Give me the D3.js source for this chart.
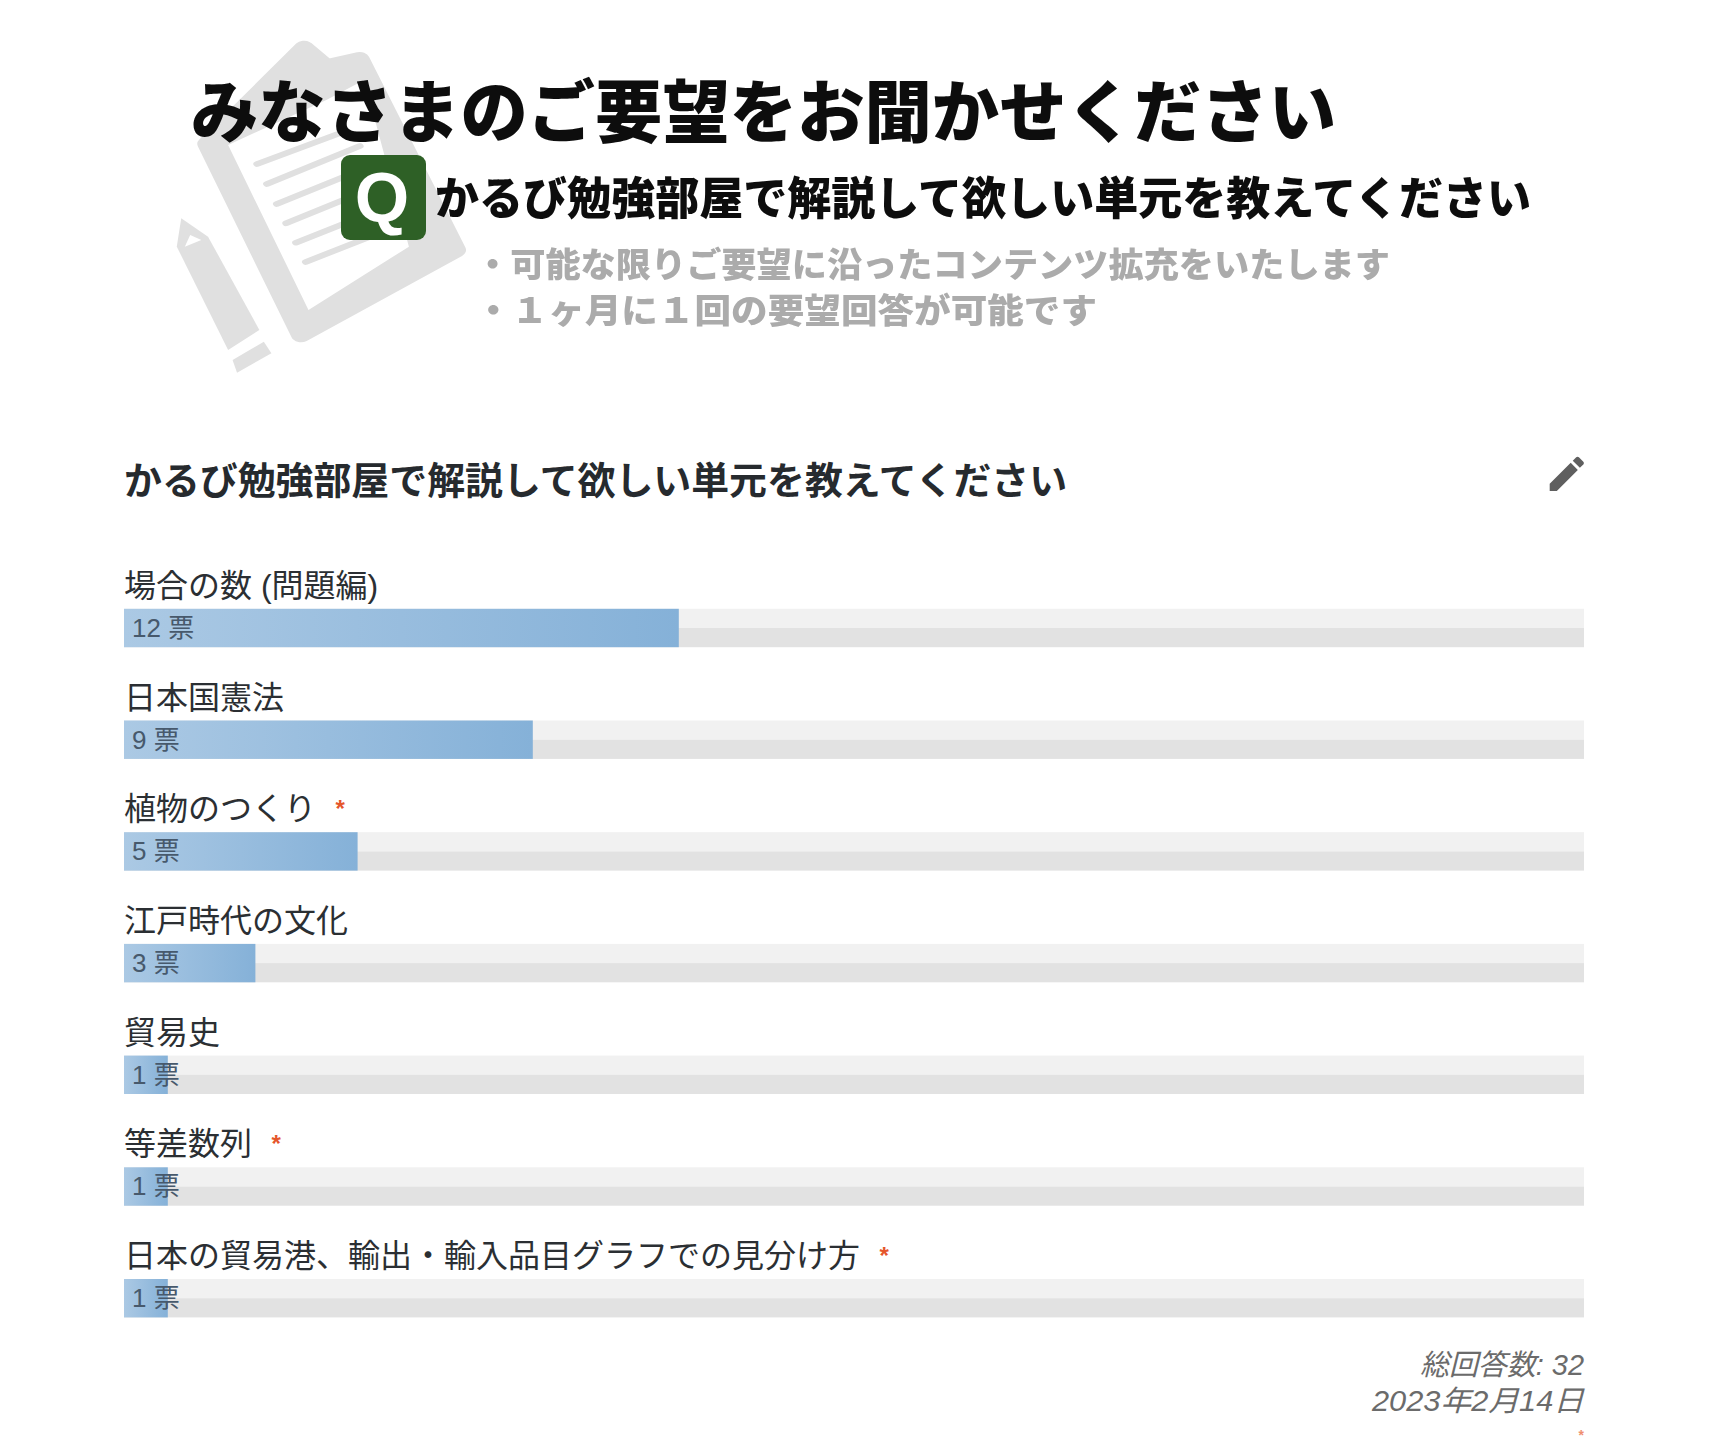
<!DOCTYPE html>
<html lang="ja"><head><meta charset="utf-8">
<script src="https://cdnjs.cloudflare.com/ajax/libs/d3/7.8.5/d3.min.js"></script>
<style>
html,body{margin:0;padding:0;background:#fff;overflow:hidden}
svg{display:block}
text{font-family:"Liberation Sans","Noto Sans CJK JP",sans-serif}
.jp{font-family:"Noto Sans CJK JP",sans-serif}
</style></head><body>
<svg id="c" width="1710" height="1444"></svg>
<script>
const categories=["場合の数 (問題編)","日本国憲法","植物のつくり","江戸時代の文化","貿易史","等差数列","日本の貿易港、輸出・輸入品目グラフでの見分け方"];
const votes=[12,9,5,3,1,1,1];
const starred=[0,0,1,0,0,1,1];
const totalResponses=32;
const question="かるび勉強部屋で解説して欲しい単元を教えてください";
const bannerTitle="みなさまのご要望をお聞かせください";
const bannerLines=["・可能な限りご要望に沿ったコンテンツ拡充をいたします","・１ヶ月に１回の要望回答が可能です"];
const footer=["総回答数: "+totalResponses,"2023年2月14日"];

const svg=d3.select("#c");
const defs=svg.append("defs");
const grad=defs.append("linearGradient").attr("id","bar");
grad.append("stop").attr("offset","0%").attr("stop-color","#abc9e4");
grad.append("stop").attr("offset","100%").attr("stop-color","#85b1d8");
defs.append("filter").attr("id","soft").attr("x","-5%").attr("y","-5%").attr("width","110%").attr("height","110%")
  .append("feGaussianBlur").attr("stdDeviation",0.7);

/* banner */
const ban=svg.append("g").attr("filter","url(#soft)");
const ic=ban.append("g").attr("transform","translate(150,20) scale(0.4464,0.3333)");
const g1="#e0e0e0";
ic.append("path").attr("fill",g1).attr("stroke",g1).attr("stroke-width",44).attr("stroke-linejoin","round")
  .attr("d","M128,372 L345,84 L395,140 L470,118 L686,690 L338,945 Z");
ic.append("path").attr("fill","#fff").attr("d","M175,375 L395,240 L480,180 L580,680 L355,870 Z");
ic.append("g").attr("stroke",g1).attr("stroke-width",17).attr("stroke-linecap","round")
  .selectAll("line").data([[240,432,425,340],[262,492,470,378],[284,552,490,440],[305,610,510,498],[327,668,530,560],[349,726,550,620]])
  .join("line").attr("x1",d=>d[0]).attr("y1",d=>d[1]).attr("x2",d=>d[2]).attr("y2",d=>d[3]);
ic.append("path").attr("fill",g1).attr("d","M60,680 L70,595 L130,650 L245,930 L175,990 Z");
ic.append("path").attr("fill","#fff").attr("d","M78,680 L90,645 L115,660 Z");
ic.append("path").attr("fill",g1).attr("d","M185,1020 L255,965 L272,1000 L195,1058 Z");
ban.append("text").attr("class","jp").attr("x",191).attr("y",137).attr("font-size",68).attr("font-weight",900)
  .attr("fill","#0a0a0a").attr("textLength",1145).attr("lengthAdjust","spacingAndGlyphs").text(bannerTitle);
ban.append("rect").attr("x",341).attr("y",155).attr("width",85).attr("height",85).attr("rx",9).attr("fill","#2f6127");
ban.append("text").attr("x",382).attr("y",222).attr("text-anchor","middle").attr("font-size",70).attr("font-weight",700)
  .attr("fill","#fff").style("font-family","'Liberation Sans'").text("Q");
ban.append("text").attr("class","jp").attr("x",435).attr("y",215).attr("font-size",45).attr("font-weight",900)
  .attr("fill","#0a0a0a").attr("textLength",1096).attr("lengthAdjust","spacingAndGlyphs").text(question);
ban.selectAll("text.sub").data(bannerLines).join("text").attr("class","sub jp")
  .attr("x",475).attr("y",(d,i)=>277+i*45.5).attr("font-size",34).attr("font-weight",900).attr("fill","#ababab")
  .attr("textLength",(d,i)=>[915,622][i]).attr("lengthAdjust","spacingAndGlyphs").text(d=>d);

/* question heading + edit icon */
svg.append("text").attr("class","jp").attr("x",124).attr("y",494).attr("font-size",37.9).attr("font-weight",700)
  .attr("fill","#262a2e").text(question);
svg.append("path").attr("transform","translate(1544,451) scale(1.9)").attr("fill","#5f5f5f")
  .attr("d","M3 17.25V21h3.75L17.81 9.94l-3.75-3.75L3 17.25zM20.71 7.04c.39-.39.39-1.02 0-1.41l-2.34-2.34c-.39-.39-1.02-.39-1.41 0l-1.83 1.83 3.75 3.75 1.83-1.83z");

/* bars */
const x=d3.scaleLinear().domain([0,100]).range([124,1584]);
const y=d3.scaleBand().domain(categories).range([608.8,608.8+7*111.7]).paddingInner(0).paddingOuter(0);
const barH=38.4;
const rows=svg.selectAll("g.row").data(categories.map((c,i)=>({c,v:votes[i],s:starred[i]}))).join("g").attr("class","row")
  .attr("transform",d=>`translate(0,${y(d.c)})`);
rows.append("rect").attr("x",x(0)).attr("width",x(100)-x(0)).attr("height",barH/2).attr("fill","#f1f1f1");
rows.append("rect").attr("x",x(0)).attr("y",barH/2).attr("width",x(100)-x(0)).attr("height",barH/2).attr("fill","#e2e2e2");
rows.append("rect").attr("x",x(0)).attr("width",d=>x(Math.round(d.v/totalResponses*100))-x(0)).attr("height",barH).attr("fill","url(#bar)");
rows.append("text").attr("x",132).attr("y",28).attr("font-size",26).attr("fill","#47596c").text(d=>d.v+" 票");
const lab=rows.append("text").attr("x",124).attr("y",-12).attr("font-size",32).attr("fill","#2b2f33").text(d=>d.c);
lab.filter(d=>d.s).append("tspan").attr("dx",19.5).attr("dy",-3).attr("font-size",24).attr("font-weight",700).attr("fill","#e5562b").text("*");

/* footer */
svg.selectAll("text.foot").data(footer).join("text").attr("class","foot").attr("x",1584).attr("y",(d,i)=>1375+i*36)
  .attr("text-anchor","end").attr("font-size",29).attr("font-style","italic").attr("fill","#6b6b6b")
  .attr("textLength",(d,i)=>[164,212][i]).attr("lengthAdjust","spacingAndGlyphs").text(d=>d);
svg.append("text").attr("x",1578.5).attr("y",1440).attr("font-size",14).attr("font-weight",700).attr("fill","#ef8f70").text("*");
</script>
</body></html>
